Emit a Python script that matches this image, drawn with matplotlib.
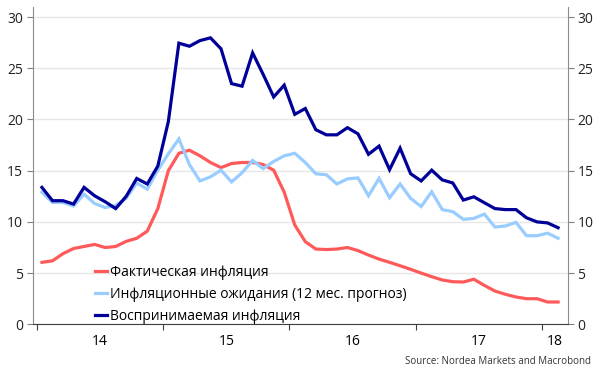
import numpy as np, matplotlib.pyplot as plt
from matplotlib import rcParams
from matplotlib.ticker import FixedLocator, NullFormatter

rcParams['font.family'] = ['Open Sans', 'DejaVu Sans']

# monthly, Jan 2014 .. Feb 2018
actual = [6.05, 6.2, 6.9, 7.4, 7.6, 7.8, 7.5, 7.6, 8.1, 8.4, 9.1, 11.3,
          15.0, 16.7, 17.0, 16.45, 15.8, 15.3, 15.7, 15.8, 15.8, 15.6, 15.05, 12.9,
          9.7, 8.07, 7.35, 7.3, 7.35, 7.5, 7.2, 6.76, 6.37, 6.05, 5.72, 5.37,
          5.0, 4.65, 4.33, 4.16, 4.13, 4.4, 3.8, 3.25, 2.93, 2.67, 2.5, 2.5,
          2.18, 2.18]
expected = [12.9, 11.9, 11.9, 11.55, 12.7, 11.8, 11.4, 11.6, 12.3, 13.8, 13.2, 15.05,
            16.65, 18.1, 15.6, 14.0, 14.4, 15.05, 13.9, 14.8, 16.0, 15.2, 15.9, 16.45,
            16.7, 15.8, 14.7, 14.6, 13.7, 14.2, 14.3, 12.55, 14.25, 12.36, 13.7, 12.3,
            11.5, 12.94, 11.2, 11.0, 10.25, 10.34, 10.76, 9.5, 9.6, 9.95, 8.65, 8.65,
            8.9, 8.4]
perceived = [13.37, 12.07, 12.07, 11.74, 13.37, 12.55, 11.97, 11.3, 12.5, 14.24, 13.7, 15.45,
             19.8, 27.45, 27.15, 27.7, 27.97, 26.9, 23.5, 23.25, 26.5, 24.4, 22.2, 23.35,
             20.5, 21.07, 19.0, 18.5, 18.5, 19.2, 18.6, 16.6, 17.4, 15.1, 17.2, 14.7,
             14.0, 15.05, 14.1, 13.8, 12.13, 12.45, 11.87, 11.3, 11.2, 11.2, 10.4, 10.0,
             9.9, 9.43]
labels = ['Фактическая инфляция', 'Инфляционные ожидания (12 мес. прогноз)',
          'Воспринимаемая инфляция']
colors = ['#ff5a5a', '#99ccff', '#000099']
years = [2014, 2015, 2016, 2017, 2018]
year_labels = ['14', '15', '16', '17', '18']

x = 2014 + (np.arange(len(actual)) + 0.5) / 12
xmin, xmax = 2013.971, 2018.2

fig = plt.figure(figsize=(6, 3.78), dpi=100)
ax = fig.add_axes([0.055, 0.142, 0.891, 0.84])

for y, lab, c in zip([actual, expected, perceived], labels, colors):
    ax.plot(x, y, color=c, linewidth=2.3, label=lab, solid_joinstyle='miter')

ax.set_xlim(xmin, xmax)
ax.set_ylim(0, 31)
ax.set_yticks(range(0, 31, 5))
ax.grid(axis='y', color='#e6e6e6', linewidth=1)
ax.set_axisbelow(True)

ax.xaxis.set_major_locator(FixedLocator(years))
ax.xaxis.set_major_formatter(NullFormatter())
mids = [yr + 0.5 for yr in years[:-1]] + [(years[-1] + xmax) / 2]
ax.xaxis.set_minor_locator(FixedLocator(mids))
ax.set_xticklabels(year_labels, minor=True)
ax.tick_params(axis='x', which='major', length=4, color='#404040')
ax.tick_params(axis='x', which='minor', length=0, pad=7)
ax.tick_params(axis='y', length=4, color='#808080', right=True, labelright=True, pad=3)
ax.tick_params(labelsize=10, labelcolor='#222222')

ax.spines['top'].set_visible(False)
for s in ['left', 'right']:
    ax.spines[s].set_color('#8c8c8c')
ax.spines['bottom'].set_color('#404040')

ax.legend(loc='lower left', bbox_to_anchor=(0.105, -0.015), frameon=False,
          fontsize=10, handlelength=0.9, handletextpad=0.2, labelspacing=0.5,
          borderaxespad=0)

fig.text(0.985, 0.03, 'Source: Nordea Markets and Macrobond', ha='right', va='bottom',
         fontsize=7, color='#333333')

plt.savefig('out.png', dpi=100)
